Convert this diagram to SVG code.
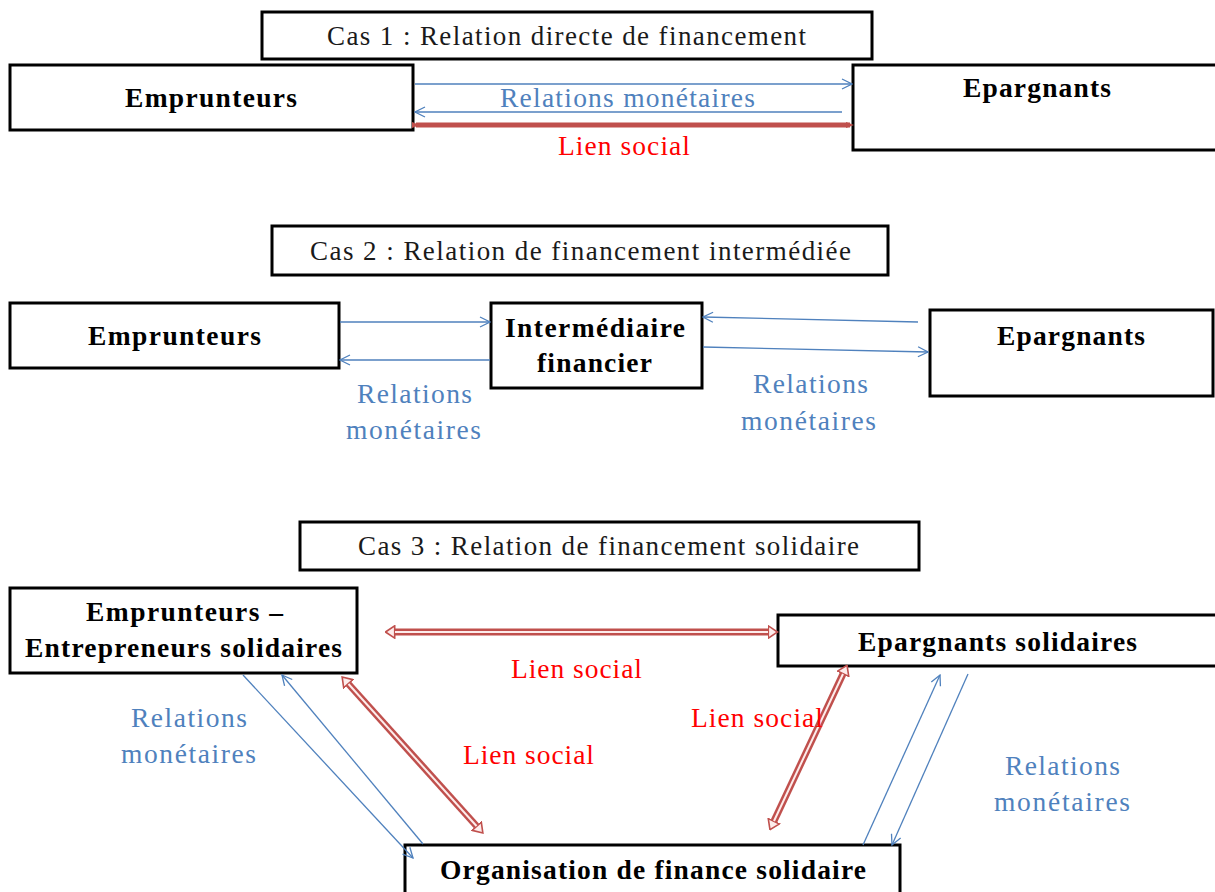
<svg xmlns="http://www.w3.org/2000/svg" width="1215" height="892" viewBox="0 0 1215 892">
<style>
.box{fill:#fff;stroke:#000;stroke-width:3}
.lbl{font-family:"Liberation Serif",serif;font-weight:bold;font-size:27.5px;fill:#000}
.ttl{font-family:"Liberation Serif",serif;font-size:27px;fill:#1a1a1a}
.blue{font-family:"Liberation Serif",serif;font-size:27.5px;fill:#4f81bd}
.red{font-family:"Liberation Serif",serif;font-size:27.5px;fill:#ff0000}
.bl{fill:none;stroke:#4f81bd;stroke-width:1.3}
.rd{fill:none;stroke:#c0504d;stroke-width:7}
.rdi{fill:none;stroke:#fdeceb;stroke-width:2}
</style>
<defs>
<marker id="ba" markerUnits="userSpaceOnUse" viewBox="0 0 12 12" markerWidth="12" markerHeight="12" refX="11" refY="6" orient="auto-start-reverse">
<path d="M1,1 L11,6 L1,11" fill="none" stroke="#4f81bd" stroke-width="1.3"/>
</marker>
<marker id="ra" markerUnits="userSpaceOnUse" viewBox="0 0 11 14" markerWidth="11" markerHeight="14" refX="0.5" refY="7" orient="auto-start-reverse">
<path d="M0.8,0.8 L10,7 L0.8,13.2 Z" fill="#fdeceb" stroke="#c0504d" stroke-width="1.6"/>
</marker>
<marker id="rs" markerUnits="userSpaceOnUse" viewBox="0 0 8 8" markerWidth="8" markerHeight="8" refX="4" refY="4" orient="auto">
<path d="M0,1 L8,4 L0,7 Z" fill="#c0504d"/>
</marker>
</defs>

<g id="title1"><rect class="box" x="262" y="12" width="610" height="47"/><text class="ttl" x="327" y="45" textLength="479" lengthAdjust="spacing">Cas 1 : Relation directe de financement</text></g>
<g id="emprunteurs1"><rect class="box" x="10" y="65" width="403" height="65"/><text class="lbl" x="125" y="107" textLength="172" lengthAdjust="spacing">Emprunteurs</text></g>
<g id="epargnants1"><rect class="box" x="853" y="65" width="370" height="85"/><text class="lbl" x="963" y="97" textLength="148" lengthAdjust="spacing">Epargnants</text></g>

<g id="title2"><rect class="box" x="272" y="226" width="616" height="49"/><text class="ttl" x="310" y="260" textLength="541" lengthAdjust="spacing">Cas 2 : Relation de financement intermédiée</text></g>
<g id="emprunteurs2"><rect class="box" x="10" y="303" width="329" height="65"/><text class="lbl" x="88" y="345" textLength="173" lengthAdjust="spacing">Emprunteurs</text></g>
<g id="intermediaire"><rect class="box" x="491" y="303" width="211" height="85"/><text class="lbl" x="505" y="337" textLength="180" lengthAdjust="spacing">Intermédiaire</text><text class="lbl" x="537" y="372" textLength="115" lengthAdjust="spacing">financier</text></g>
<g id="epargnants2"><rect class="box" x="930" y="310" width="283" height="86"/><text class="lbl" x="997" y="345" textLength="148" lengthAdjust="spacing">Epargnants</text></g>

<g id="title3"><rect class="box" x="300" y="522" width="619" height="48"/><text class="ttl" x="358" y="555" textLength="501" lengthAdjust="spacing">Cas 3 : Relation de financement solidaire</text></g>
<g id="emprunteurs3"><rect class="box" x="10" y="588" width="347" height="85"/><text class="lbl" x="86" y="621" textLength="197" lengthAdjust="spacing">Emprunteurs –</text><text class="lbl" x="25" y="657" textLength="317" lengthAdjust="spacing">Entrepreneurs solidaires</text></g>
<g id="epargnants3"><rect class="box" x="778" y="615" width="445" height="51"/><text class="lbl" x="858" y="651" textLength="279" lengthAdjust="spacing">Epargnants solidaires</text></g>
<g id="organisation"><rect class="box" x="405" y="845" width="495" height="60"/><text class="lbl" x="440" y="879" textLength="426" lengthAdjust="spacing">Organisation de finance solidaire</text></g>

<g id="connectors">
<line class="bl" x1="415" y1="84" x2="852" y2="84" marker-end="url(#ba)"/>
<line class="bl" x1="842" y1="112" x2="415" y2="112" marker-end="url(#ba)"/>
<line x1="416" y1="125" x2="850" y2="125" stroke="#c0504d" stroke-width="5" marker-start="url(#rs)" marker-end="url(#rs)"/>

<line class="bl" x1="340" y1="322" x2="490" y2="322" marker-end="url(#ba)"/>
<line class="bl" x1="490" y1="360" x2="340" y2="360" marker-end="url(#ba)"/>
<line class="bl" x1="918" y1="322" x2="703" y2="317" marker-end="url(#ba)"/>
<line class="bl" x1="703" y1="347" x2="928" y2="352" marker-end="url(#ba)"/>

<line class="rd" x1="395" y1="632" x2="768" y2="632" marker-start="url(#ra)" marker-end="url(#ra)"/>
<line class="rdi" x1="395" y1="632" x2="768" y2="632"/>
<line class="rd" x1="348.5" y1="684" x2="476.5" y2="826" marker-start="url(#ra)" marker-end="url(#ra)"/>
<line class="rdi" x1="348.5" y1="684" x2="476.5" y2="826"/>
<line class="rd" x1="843" y1="674" x2="774" y2="821" marker-start="url(#ra)" marker-end="url(#ra)"/>
<line class="rdi" x1="843" y1="674" x2="774" y2="821"/>

<line class="bl" x1="243" y1="675" x2="413" y2="858" marker-end="url(#ba)"/>
<line class="bl" x1="423" y1="844" x2="282" y2="675" marker-end="url(#ba)"/>
<line class="bl" x1="863" y1="845" x2="940" y2="675" marker-end="url(#ba)"/>
<line class="bl" x1="968" y1="674" x2="892" y2="845" marker-end="url(#ba)"/>
</g>

<g id="labels">
<text class="blue" x="500" y="107" textLength="255" lengthAdjust="spacing">Relations monétaires</text>
<text class="red" x="558" y="155" textLength="132" lengthAdjust="spacing">Lien social</text>
<text class="blue" x="357" y="403" textLength="115" lengthAdjust="spacing">Relations</text>
<text class="blue" x="346" y="439" textLength="135" lengthAdjust="spacing">monétaires</text>
<text class="blue" x="753" y="393" textLength="115" lengthAdjust="spacing">Relations</text>
<text class="blue" x="741" y="430" textLength="135" lengthAdjust="spacing">monétaires</text>
<text class="red" x="511" y="678" textLength="131" lengthAdjust="spacing">Lien social</text>
<text class="red" x="463" y="764" textLength="131" lengthAdjust="spacing">Lien social</text>
<text class="red" x="691" y="727" textLength="132" lengthAdjust="spacing">Lien social</text>
<text class="blue" x="131" y="727" textLength="116" lengthAdjust="spacing">Relations</text>
<text class="blue" x="121" y="763" textLength="135" lengthAdjust="spacing">monétaires</text>
<text class="blue" x="1005" y="775" textLength="115" lengthAdjust="spacing">Relations</text>
<text class="blue" x="994" y="811" textLength="136" lengthAdjust="spacing">monétaires</text>
</g>
</svg>
